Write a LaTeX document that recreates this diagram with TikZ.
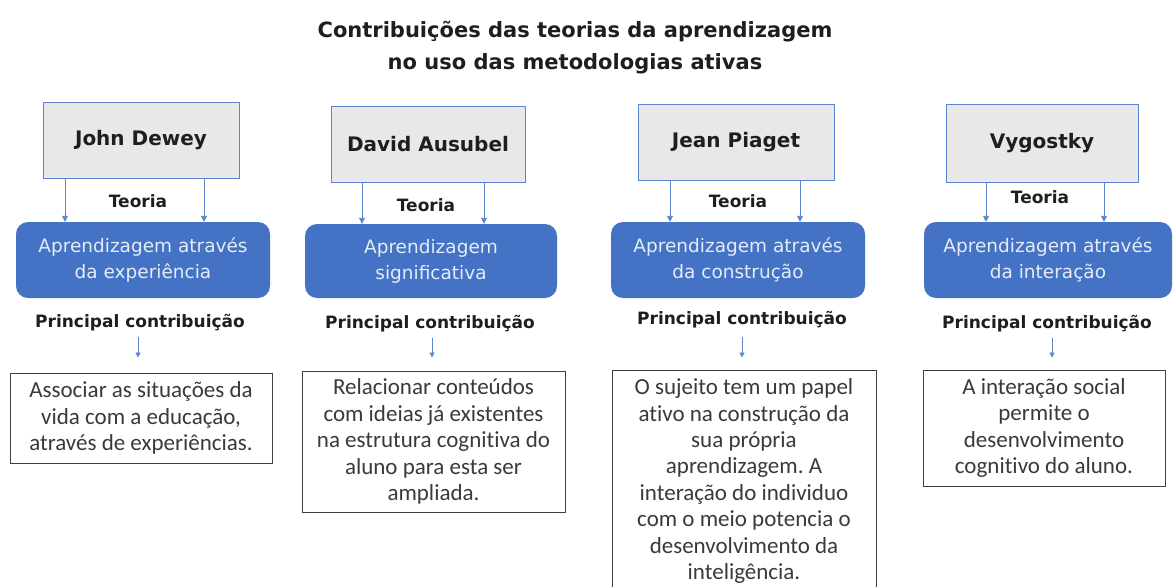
\documentclass[tikz,border=0pt]{standalone}
\usepackage{fontspec}
\setmainfont{Carlito}[Ligatures=NoCommon]
\newfontfamily\hdfont{DejaVu Sans}
\usetikzlibrary{arrows.meta}
\frenchspacing
\definecolor{bluebox}{HTML}{4472C4}
\definecolor{blueline}{HTML}{5B85D0}
\definecolor{bluetext}{HTML}{E4ECF7}
\definecolor{graybox}{HTML}{E8E8E8}
\definecolor{darktext}{HTML}{1E1E1E}
\definecolor{bodytext}{HTML}{3A3A3A}
\begin{document}
\begin{tikzpicture}[x=1pt,y=-1pt,
  namebox/.style={draw=blueline,line width=0.9pt,fill=graybox,minimum height=76pt,inner sep=0pt,
     font=\hdfont\bfseries\fontsize{20}{24}\selectfont,text=darktext},
  theorybox/.style={fill=bluebox,rounded corners=12pt,minimum height=76pt,inner sep=0pt,
     font=\hdfont\fontsize{18.5}{26}\selectfont,text=bluetext,align=center},
  contribbox/.style={draw=darktext!85,line width=1pt,fill=white,inner sep=0pt,
     font=\fontsize{23}{26.4}\selectfont,text=bodytext,align=center},
  lbl/.style={font=\hdfont\bfseries\fontsize{17}{20}\selectfont,text=darktext,inner sep=0pt},
  titlelbl/.style={font=\hdfont\bfseries\fontsize{21}{32}\selectfont,text=darktext,align=center,inner sep=0pt},
  arr/.style={draw=blueline,line width=0.9pt,-{Triangle[width=6pt,length=6pt]}},
  sarr/.style={draw=blueline,line width=0.9pt,-{Triangle[width=5pt,length=5pt]}}
]
\clip (0,0) rectangle (1174,586);
\fill[white] (0,0) rectangle (1174,586);

\node[titlelbl] (title) at (575,48) {Contribuições das teorias da aprendizagem\\no uso das metodologias ativas};

% Column 1
\node[namebox,minimum width=196pt] (g1) at (141,140) {John Dewey};
\node[theorybox,minimum width=254pt] (b1) at (143,260) {Aprendizagem através\\da experiência};
\node[lbl] (t1) at (138,201) {Teoria};
\node[lbl] (p1) at (140,323) {Principal contribuição};
\node[contribbox,minimum width=262pt,minimum height=90pt] (w1) at (141,418) {Associar as situações da\\vida com a educação,\\através de experiências.};
\draw[arr] (g1.south -| 65,0) -- (b1.north -| 65,0);
\draw[arr] (g1.south -| 204,0) -- (b1.north -| 204,0);
\draw[sarr,shorten <=5pt,shorten >=15pt] (p1.south -| 138,0) -- (w1.north -| 138,0);

% Column 2
\node[namebox,minimum width=194pt] (g2) at (428,144) {David Ausubel};
\node[theorybox,minimum width=252pt,minimum height=74pt] (b2) at (431,261) {Aprendizagem\\significativa};
\node[lbl] (t2) at (426,205) {Teoria};
\node[lbl] (p2) at (430,324) {Principal contribuição};
\node[contribbox,minimum width=263pt,minimum height=141pt] (w2) at (433.5,441.5) {Relacionar conteúdos\\com ideias já existentes\\na estrutura cognitiva do\\aluno para esta ser\\ampliada.};
\draw[arr] (g2.south -| 362,0) -- (b2.north -| 362,0);
\draw[arr] (g2.south -| 484,0) -- (b2.north -| 484,0);
\draw[sarr,shorten <=5pt,shorten >=13pt] (p2.south -| 432,0) -- (w2.north -| 432,0);

% Column 3
\node[namebox,minimum width=196pt] (g3) at (736,142) {Jean Piaget};
\node[theorybox,minimum width=254pt] (b3) at (738,260) {Aprendizagem através\\da construção};
\node[lbl] (t3) at (738,201) {Teoria};
\node[lbl] (p3) at (742,320) {Principal contribuição};
\node[contribbox,minimum width=264pt,minimum height=222pt] (w3) at (744,481) {O sujeito tem um papel\\ativo na construção da\\sua própria\\aprendizagem. A\\interação do individuo\\com o meio potencia o\\desenvolvimento da\\inteligência.};
\draw[arr] (g3.south -| 670,0) -- (b3.north -| 670,0);
\draw[arr] (g3.south -| 800,0) -- (b3.north -| 800,0);
\draw[sarr,shorten <=8pt,shorten >=12pt] (p3.south -| 742,0) -- (w3.north -| 742,0);

% Column 4
\node[namebox,minimum width=192pt,minimum height=78pt] (g4) at (1042,143) {Vygostky};
\node[theorybox,minimum width=248pt] (b4) at (1048,260) {Aprendizagem através\\da interação};
\node[lbl] (t4) at (1040,197) {Teoria};
\node[lbl] (p4) at (1047,324) {Principal contribuição};
\node[contribbox,minimum width=242pt,minimum height=116pt] (w4) at (1044,428) {A interação social\\permite o\\desenvolvimento\\cognitivo do aluno.};
\draw[arr] (g4.south -| 986,0) -- (b4.north -| 986,0);
\draw[arr] (g4.south -| 1104,0) -- (b4.north -| 1104,0);
\draw[sarr,shorten <=5pt,shorten >=12pt] (p4.south -| 1052,0) -- (w4.north -| 1052,0);
\end{tikzpicture}
\end{document}
